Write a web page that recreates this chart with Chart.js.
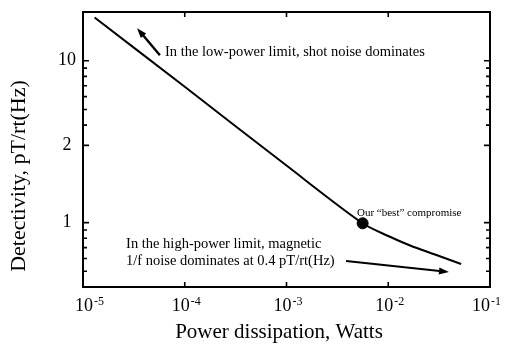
<!DOCTYPE html>
<html>
<head>
<meta charset="utf-8">
<script src="https://cdn.jsdelivr.net/npm/chart.js@4.4.1/dist/chart.umd.min.js"></script>
<style>
  html, body { margin: 0; padding: 0; background: #fff; }
</style>
</head>
<body>
<canvas id="chart" width="505" height="344"></canvas>
<script>
// curve
const powerW = [1.3e-5, 1e-4, 1e-3, 5.6e-3, 1e-2, 1.64e-2, 2.88e-2, 5.2e-2];
const detect = [18.5, 6.9, 2.25, 0.99, 0.826, 0.722, 0.635, 0.555];
// the "best" compromise point
const bestW = [5.6e-3];
const bestD = [0.99];

// axes
const xTicks = [1e-5, 1e-4, 1e-3, 1e-2, 1e-1];
const xTickExp = ['-5', '-4', '-3', '-2', '-1'];
const yTicks = [0.5, 0.6, 0.7, 0.8, 0.9, 1, 3, 4, 5, 6, 7, 8, 9, 10];
const yLabelAt = [1, 3, 10];
const yLabelText = ['1', '2', '10'];

const SERIF = '"Liberation Serif", "DejaVu Serif", serif';

function arrow(ctx, x1, y1, x2, y2, lw) {
  const a = Math.atan2(y2 - y1, x2 - x1), h = 10, w = 3.5;
  const c = Math.cos(a), s = Math.sin(a);
  ctx.lineWidth = lw;
  ctx.beginPath();
  ctx.moveTo(x1, y1);
  ctx.lineTo(x2 - h * 0.7 * c, y2 - h * 0.7 * s);
  ctx.stroke();
  ctx.beginPath();
  ctx.moveTo(x2, y2);
  ctx.lineTo(x2 - h * c + w * s, y2 - h * s - w * c);
  ctx.lineTo(x2 - h * c - w * s, y2 - h * s + w * c);
  ctx.closePath();
  ctx.fill();
}

const decor = {
  id: 'decor',
  afterDraw(chart) {
    const { ctx, chartArea: a, scales: { x, y } } = chart;
    const px = v => x.getPixelForValue(v);
    const py = v => y.getPixelForValue(v);
    ctx.save();
    ctx.strokeStyle = '#000';
    ctx.fillStyle = '#000';

    // frame
    ctx.lineWidth = 2;
    ctx.strokeRect(a.left, a.top, a.right - a.left, a.bottom - a.top);

    // inward ticks
    ctx.lineWidth = 1.6;
    ctx.beginPath();
    yTicks.forEach(v => {
      const yy = py(v), len = yLabelAt.includes(v) ? 6 : 4;
      ctx.moveTo(a.left, yy); ctx.lineTo(a.left + len, yy);
      ctx.moveTo(a.right, yy); ctx.lineTo(a.right - len, yy);
    });
    xTicks.slice(1, -1).forEach(v => {
      const xx = px(v);
      ctx.moveTo(xx, a.bottom); ctx.lineTo(xx, a.bottom - 5);
      ctx.moveTo(xx, a.top); ctx.lineTo(xx, a.top + 5);
    });
    ctx.stroke();

    // y tick labels
    ctx.font = '18px ' + SERIF;
    ctx.textAlign = 'center';
    ctx.textBaseline = 'middle';
    yLabelAt.forEach((v, i) => ctx.fillText(yLabelText[i], a.left - 16, py(v)));

    // x tick labels, 10 with a raised exponent
    ctx.textAlign = 'left';
    ctx.textBaseline = 'alphabetic';
    xTicks.forEach((v, i) => {
      ctx.font = '18px ' + SERIF;
      const wb = ctx.measureText('10').width;
      ctx.font = '12px ' + SERIF;
      const we = ctx.measureText(xTickExp[i]).width;
      let left = px(v) - 13;
      left = Math.max(75, Math.min(left, chart.width - wb - we - 5));
      ctx.font = '18px ' + SERIF;
      ctx.fillText('10', left, a.bottom + 24);
      ctx.font = '12px ' + SERIF;
      ctx.fillText(xTickExp[i], left + wb + 1, a.bottom + 18);
    });

    // axis titles
    ctx.font = '21px ' + SERIF;
    ctx.textAlign = 'center';
    ctx.fillText('Power dissipation, Watts', 279, 338);
    ctx.save();
    ctx.font = '22px ' + SERIF;
    ctx.translate(25, 176);
    ctx.rotate(-Math.PI / 2);
    ctx.fillText('Detectivity, pT/rt(Hz)', 0, 0);
    ctx.restore();

    // annotations
    ctx.textAlign = 'left';
    ctx.textBaseline = 'middle';
    ctx.font = '14.5px ' + SERIF;
    ctx.fillText('In the low-power limit, shot noise dominates', px(6.4e-5), py(11.3));
    ctx.fillText('In the high-power limit, magnetic', px(2.65e-5), py(0.737));
    ctx.fillText('1/f noise dominates at 0.4 pT/rt(Hz)', px(2.65e-5), py(0.579));
    ctx.font = '11px ' + SERIF;
    ctx.fillText('Our \u201cbest\u201d compromise', px(4.93e-3), py(1.15));

    arrow(ctx, px(5.7e-5), py(10.8), px(3.4e-5), py(15.9), 2.4);
    arrow(ctx, px(3.85e-3), py(0.579), px(0.0395), py(0.495), 2);
    ctx.restore();
  }
};

new Chart(document.getElementById('chart'), {
  type: 'line',
  data: {
    datasets: [{
      data: powerW.map((w, i) => ({ x: w, y: detect[i] })),
      borderColor: '#000',
      borderWidth: 2,
      pointRadius: 0,
      tension: 0.3,
      fill: false
    }, {
      type: 'scatter',
      data: bestW.map((w, i) => ({ x: w, y: bestD[i] })),
      backgroundColor: '#000',
      borderColor: '#000',
      pointRadius: 5.5
    }]
  },
  plugins: [decor],
  options: {
    responsive: false,
    animation: false,
    layout: { padding: { top: 12, right: 15, left: 0, bottom: 0 } },
    plugins: { legend: { display: false }, tooltip: { enabled: false } },
    scales: {
      x: {
        type: 'logarithmic',
        min: 1e-5, max: 1e-1,
        grid: { display: false },
        border: { display: false },
        ticks: { display: false },
        afterBuildTicks: s => { s.ticks = xTicks.map(v => ({ value: v })); },
        afterFit: s => { s.height = 57; }
      },
      y: {
        type: 'logarithmic',
        min: 0.4, max: 20,
        grid: { display: false },
        border: { display: false },
        ticks: { display: false },
        afterBuildTicks: s => { s.ticks = yTicks.map(v => ({ value: v })); },
        afterFit: s => { s.width = 83; }
      }
    }
  }
});
</script>
</body>
</html>
